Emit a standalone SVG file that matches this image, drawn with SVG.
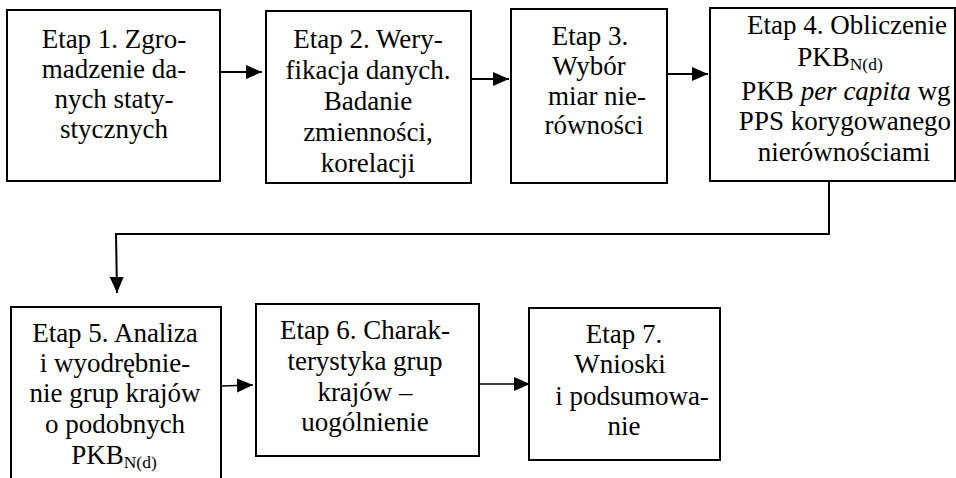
<svg xmlns="http://www.w3.org/2000/svg" width="956" height="478" viewBox="0 0 956 478">
<style>
.box{fill:#fff;stroke:#000;stroke-width:2}
.t{font-family:'Liberation Serif','Times New Roman',serif;font-size:27px;fill:#000;text-anchor:middle}
.sub{font-size:17.5px}
.c{fill:none;stroke:#000;stroke-width:2}
.ct{fill:none;stroke:#000;stroke-width:1.4}
</style>
<defs>
<marker id="ah" markerUnits="userSpaceOnUse" markerWidth="17" markerHeight="15" refX="16" refY="7" orient="auto">
<path d="M0,0 L16,7 L0,14 Z" fill="#000"/>
</marker>
</defs>
<rect width="956" height="478" fill="#fff"/>
<g id="connectors">
<line class="c" x1="220" y1="72" x2="262" y2="72" marker-end="url(#ah)"/>
<line class="c" x1="471" y1="79" x2="509" y2="79" marker-end="url(#ah)"/>
<line class="c" x1="667" y1="74" x2="708" y2="74" marker-end="url(#ah)"/>
<polyline class="c" points="829,181 829,234 116,234 117,293" marker-end="url(#ah)"/>
<line class="ct" x1="221" y1="386" x2="253" y2="385" marker-end="url(#ah)"/>
<line class="ct" x1="479" y1="384" x2="530" y2="384" marker-end="url(#ah)"/>
</g>
<g id="n1">
<rect class="box" x="7" y="10" width="213" height="171"/>
<text class="t"><tspan x="114" y="48">Etap 1. Zgro-</tspan><tspan x="114" y="78">madzenie da-</tspan><tspan x="114" y="108">nych staty-</tspan><tspan x="114" y="138">stycznych</tspan></text>
</g>
<g id="n2">
<rect class="box" x="266" y="11" width="205" height="172"/>
<text class="t"><tspan x="368" y="48">Etap 2. Wery-</tspan><tspan x="368" y="79">fikacja danych.</tspan><tspan x="368" y="110">Badanie</tspan><tspan x="368" y="141">zmienności,</tspan><tspan x="368" y="172">korelacji</tspan></text>
</g>
<g id="n3">
<rect class="box" x="511" y="9" width="156" height="174"/>
<text class="t"><tspan x="590" y="45">Etap 3.</tspan><tspan x="589" y="75">Wybór</tspan><tspan x="597" y="105">miar nie-</tspan><tspan x="594" y="134">równości</tspan></text>
</g>
<g id="n4">
<rect class="box" x="710" y="8" width="245" height="173"/>
<text class="t"><tspan x="847" y="34">Etap 4. Obliczenie</tspan></text>
<text class="t" x="840" y="66">PKB<tspan class="sub" dy="4">N(d)</tspan></text>
<text class="t"><tspan x="846" y="100">PKB <tspan font-style="italic">per capita</tspan> wg</tspan><tspan x="845" y="130">PPS korygowanego</tspan><tspan x="844" y="161">nierównościami</tspan></text>
</g>
<g id="n5">
<rect class="box" x="11" y="307" width="210" height="185"/>
<text class="t"><tspan x="115" y="342">Etap 5. Analiza</tspan><tspan x="115" y="372">i wyodrębnie-</tspan><tspan x="115" y="402">nie grup krajów</tspan><tspan x="115" y="433">o podobnych</tspan></text>
<text class="t" x="114" y="464">PKB<tspan class="sub" dy="4">N(d)</tspan></text>
</g>
<g id="n6">
<rect class="box" x="256" y="304" width="223" height="152"/>
<text class="t"><tspan x="365" y="339">Etap 6. Charak-</tspan><tspan x="365" y="370">terystyka grup</tspan><tspan x="365" y="401">krajów –</tspan><tspan x="365" y="431">uogólnienie</tspan></text>
</g>
<g id="n7">
<rect class="box" x="529" y="308" width="191" height="152"/>
<text class="t"><tspan x="624" y="343">Etap 7.</tspan><tspan x="620" y="373">Wnioski</tspan><tspan x="632" y="405">i podsumowa-</tspan><tspan x="624" y="435">nie</tspan></text>
</g>
</svg>
